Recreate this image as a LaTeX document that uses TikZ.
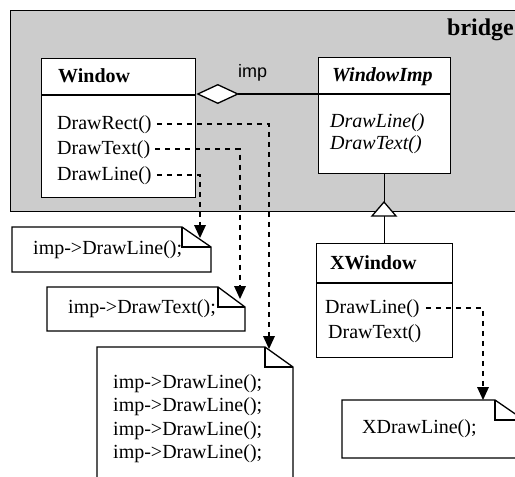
\documentclass[tikz,border=0pt]{standalone}
\usepackage{fontspec}
\setmainfont{Liberation Serif}
\newfontfamily\impfont{Liberation Sans}
\usetikzlibrary{arrows.meta}
\begin{document}
\begin{tikzpicture}[x=1pt,y=-1pt,
  box/.style={draw, fill=white, line width=1.3pt, inner sep=0pt, anchor=north west},
  txt/.style={anchor=base west, inner sep=0pt, font=\fontsize{20}{24}\selectfont},
  ttl/.style={txt, font=\fontsize{20}{24}\selectfont\bfseries},
  itl/.style={txt, font=\fontsize{20}{24}\selectfont\itshape},
  notebox/.style={draw, fill=white, line width=1.3pt, line join=miter},
  solid line/.style={line width=1.3pt},
  dsh/.style={line width=1.6pt, dash pattern=on 5pt off 5pt, -{Triangle[length=13pt,width=12pt,line width=0pt]}}
]
\useasboundingbox (0,0) rectangle (515,477);
\clip (0,0) rectangle (515,477);

% package region
\draw[fill=gray!40, line width=0.9pt] (10.5,10.5) rectangle (540,211);
\node[anchor=base west, inner sep=0pt, font=\fontsize{24}{28}\selectfont\bfseries] (bridge) at (447,35) {bridge};

% Window class
\node[box, minimum width=154pt, minimum height=139pt] (window) at (41,58) {};
\draw[solid line] (41,95) -- (195,95);
\node[ttl] (wtitle) at (58,82) {Window};
\node[txt] (wrect) at (57,129) {DrawRect()};
\node[txt] (wtext) at (57,154) {DrawText()};
\node[txt] (wline) at (57,180) {DrawLine()};

% WindowImp class
\node[box, minimum width=132pt, minimum height=116pt] (wimp) at (318,57) {};
\draw[solid line] (318,94) -- (450,94);
\node[txt, font=\fontsize{20}{24}\selectfont\bfseries\itshape] (wititle) at (332,81) {WindowImp};
\node[itl] (wiline) at (330,127) {DrawLine()};
\node[itl] (witext) at (330,149) {DrawText()};

% aggregation
\draw[solid line, {Diamond[fill=white,length=43pt,width=20pt]}-] (window.east |- 0,94) -- (wimp.west |- 0,94);
\node[anchor=base west, inner sep=0pt, font=\impfont\fontsize{18}{20}\selectfont] (implbl) at (238,77) {imp};

% XWindow class
\node[box, minimum width=136pt, minimum height=114pt] (xwin) at (316,243) {};
\draw[solid line] (316,283) -- (452,283);
\node[ttl] (xtitle) at (330,269) {XWindow};
\node[txt] (xline) at (325,313) {DrawLine()};
\node[txt] (xtext) at (328,338) {DrawText()};

% generalization
\draw[solid line] (wimp.south) -- (xwin.north);
\draw[solid line, fill=white, line join=miter] (384,202) -- (396,216) -- (372,216) -- cycle;

% notes
\draw[notebox] (12,227) -- (182,227) -- (211,247) -- (211,272) -- (12,272) -- cycle;
\draw[solid line] (182,227) -- (182,247) -- (211,247);
\node[txt] (n1) at (33,254) {imp->DrawLine();};

\draw[notebox] (47,287) -- (218,287) -- (245,307) -- (245,331) -- (47,331) -- cycle;
\draw[solid line] (218,287) -- (218,307) -- (245,307);
\node[txt] (n2) at (68,313) {imp->DrawText();};

\draw[notebox] (97,500) -- (97,347) -- (265,347) -- (293,367) -- (293,500);
\draw[solid line] (265,347) -- (265,367) -- (293,367);
\node[txt] (n3a) at (113,388) {imp->DrawLine();};
\node[txt] (n3b) at (113,411) {imp->DrawLine();};
\node[txt] (n3c) at (113,435) {imp->DrawLine();};
\node[txt] (n3d) at (113,458) {imp->DrawLine();};

\draw[notebox] (342,400) -- (495,400) -- (524,420) -- (524,458) -- (342,458) -- cycle;
\draw[solid line] (495,400) -- (495,420) -- (524,420);
\node[txt] (n4) at (362,433) {XDrawLine();};

% arrow targets
\coordinate (t1) at (200,238);
\coordinate (t2) at (240,299);
\coordinate (t3) at (269,349);
\coordinate (t4) at (483,400);

% dashed connectors
\draw[dsh] ([xshift=5pt]wline.east) -| (t1);
\draw[dsh] ([xshift=5pt]wtext.east) -| (t2);
\draw[dsh] ([xshift=5pt]wrect.east) -| (t3);
\draw[dsh] ([xshift=6pt]xline.east) -| (t4);
\end{tikzpicture}
\end{document}
